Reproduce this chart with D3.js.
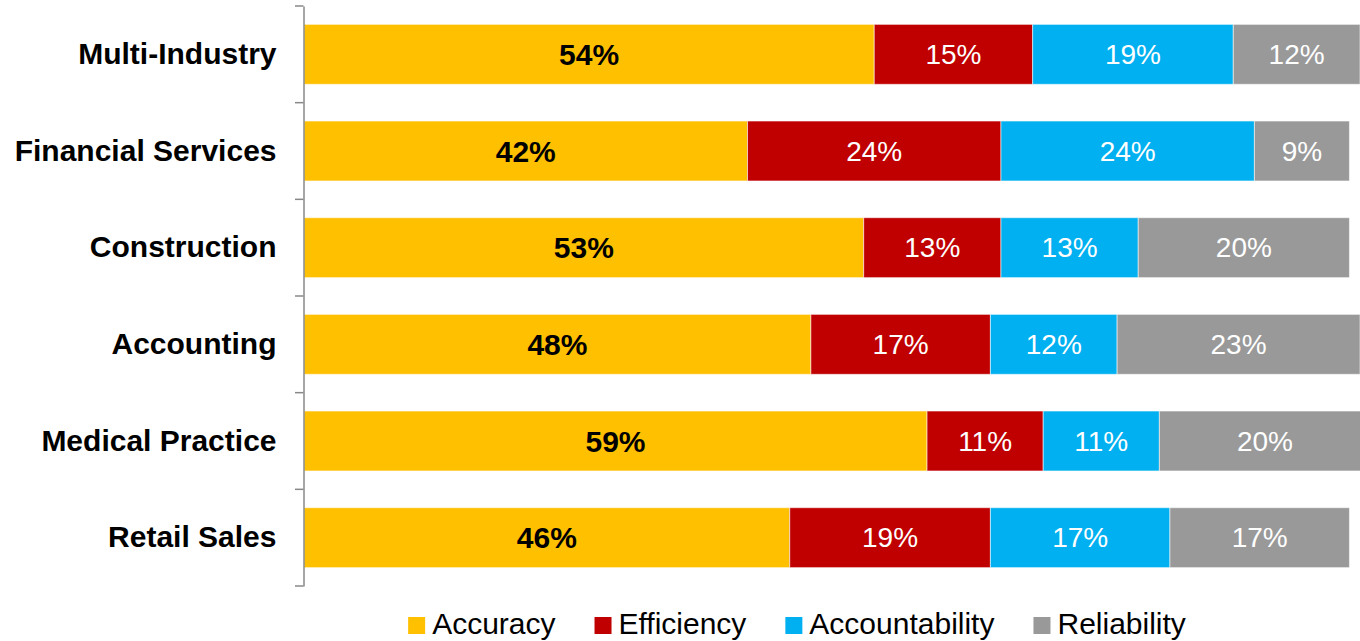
<!DOCTYPE html>
<html>
<head>
<meta charset="utf-8">
<script src="https://cdn.jsdelivr.net/npm/d3@7"></script>
<style>
  html, body { margin: 0; padding: 0; background: #fff; overflow: hidden; }
  text { font-family: "Liberation Sans", Arial, sans-serif; }
</style>
</head>
<body>
<svg id="chart" width="1360" height="641"></svg>
<script>
// data
const industries = ["Multi-Industry", "Financial Services", "Construction", "Accounting", "Medical Practice", "Retail Sales"];
const seriesNames = ["Accuracy", "Efficiency", "Accountability", "Reliability"];
const accuracy       = [54, 42, 53, 48, 59, 46];
const efficiency     = [15, 24, 13, 17, 11, 19];
const accountability = [19, 24, 13, 12, 11, 17];
const reliability    = [12,  9, 20, 23, 20, 17];
const colors = ["#FFC000", "#C00000", "#00B0F0", "#999999"];

const rows = industries.map((name, i) => ({
  name: name,
  Accuracy: accuracy[i],
  Efficiency: efficiency[i],
  Accountability: accountability[i],
  Reliability: reliability[i]
}));

const svg = d3.select("#chart");

const x = d3.scaleLinear().domain([0, 100]).range([304, 1360]);
const y = d3.scaleBand().domain(industries).range([6, 586])
  .paddingInner(0.38).paddingOuter(0.19);

const color = d3.scaleOrdinal().domain(seriesNames).range(colors);

const stacked = d3.stack().keys(seriesNames)(rows);

// bars
const layers = svg.append("g").selectAll("g.layer")
  .data(stacked)
  .enter()
  .append("g")
  .attr("class", "layer")
  .attr("fill", d => color(d.key));

layers.selectAll("rect")
  .data(d => d)
  .enter()
  .append("rect")
  .attr("x", d => x(d[0]))
  .attr("y", d => y(d.data.name))
  .attr("width", d => x(d[1]) - x(d[0]))
  .attr("height", y.bandwidth())
  .attr("stroke", "#fff")
  .attr("stroke-opacity", 0.55)
  .attr("stroke-width", 1);

// value labels
layers.selectAll("text")
  .data(d => d.map(v => Object.assign(v, { key: d.key })))
  .enter()
  .append("text")
  .attr("x", d => (x(d[0]) + x(d[1])) / 2)
  .attr("y", d => y(d.data.name) + y.bandwidth() / 2)
  .attr("dy", "0.35em")
  .attr("text-anchor", "middle")
  .attr("font-size", d => d.key === "Accuracy" ? 30 : 28)
  .attr("font-weight", d => d.key === "Accuracy" ? "bold" : "normal")
  .attr("fill", d => d.key === "Accuracy" ? "#000" : "#fff")
  .text(d => (d[1] - d[0]) + "%");

// category axis
const axis = svg.append("g")
  .attr("transform", "translate(303.5,0)")
  .call(d3.axisLeft(y).tickSize(0).tickPadding(27).tickSizeOuter(0));
axis.select(".domain").attr("stroke", "#888").attr("stroke-width", 1.5);
axis.selectAll(".tick text")
  .attr("font-size", 30)
  .attr("font-weight", "bold")
  .attr("fill", "#000")
  .attr("font-family", "'Liberation Sans', Arial, sans-serif");

// band boundary tick marks
const edges = industries.map(d => y(d) - y.step() * y.paddingInner() / 2);
edges.push(586);
edges[0] = 6;
svg.append("g").selectAll("line")
  .data(edges)
  .enter()
  .append("line")
  .attr("x1", 295)
  .attr("x2", 303.5)
  .attr("y1", d => d)
  .attr("y2", d => d)
  .attr("stroke", "#888")
  .attr("stroke-width", 1.5);

// legend
const legend = svg.append("g");
const items = legend.selectAll("g")
  .data(seriesNames)
  .enter()
  .append("g");
items.append("rect")
  .attr("width", 17)
  .attr("height", 17)
  .attr("y", 617)
  .attr("fill", d => color(d));
items.append("text")
  .attr("x", 24)
  .attr("y", 634)
  .attr("font-size", 30)
  .attr("fill", "#000")
  .text(d => d);

let pos = 0;
const offsets = [];
items.each(function () {
  offsets.push(pos);
  pos += 24 + d3.select(this).select("text").node().getComputedTextLength() + 39;
});
const total = pos - 39;
const startX = 797 - total / 2;
items.attr("transform", (d, i) => `translate(${startX + offsets[i]},0)`);
</script>
</body>
</html>
